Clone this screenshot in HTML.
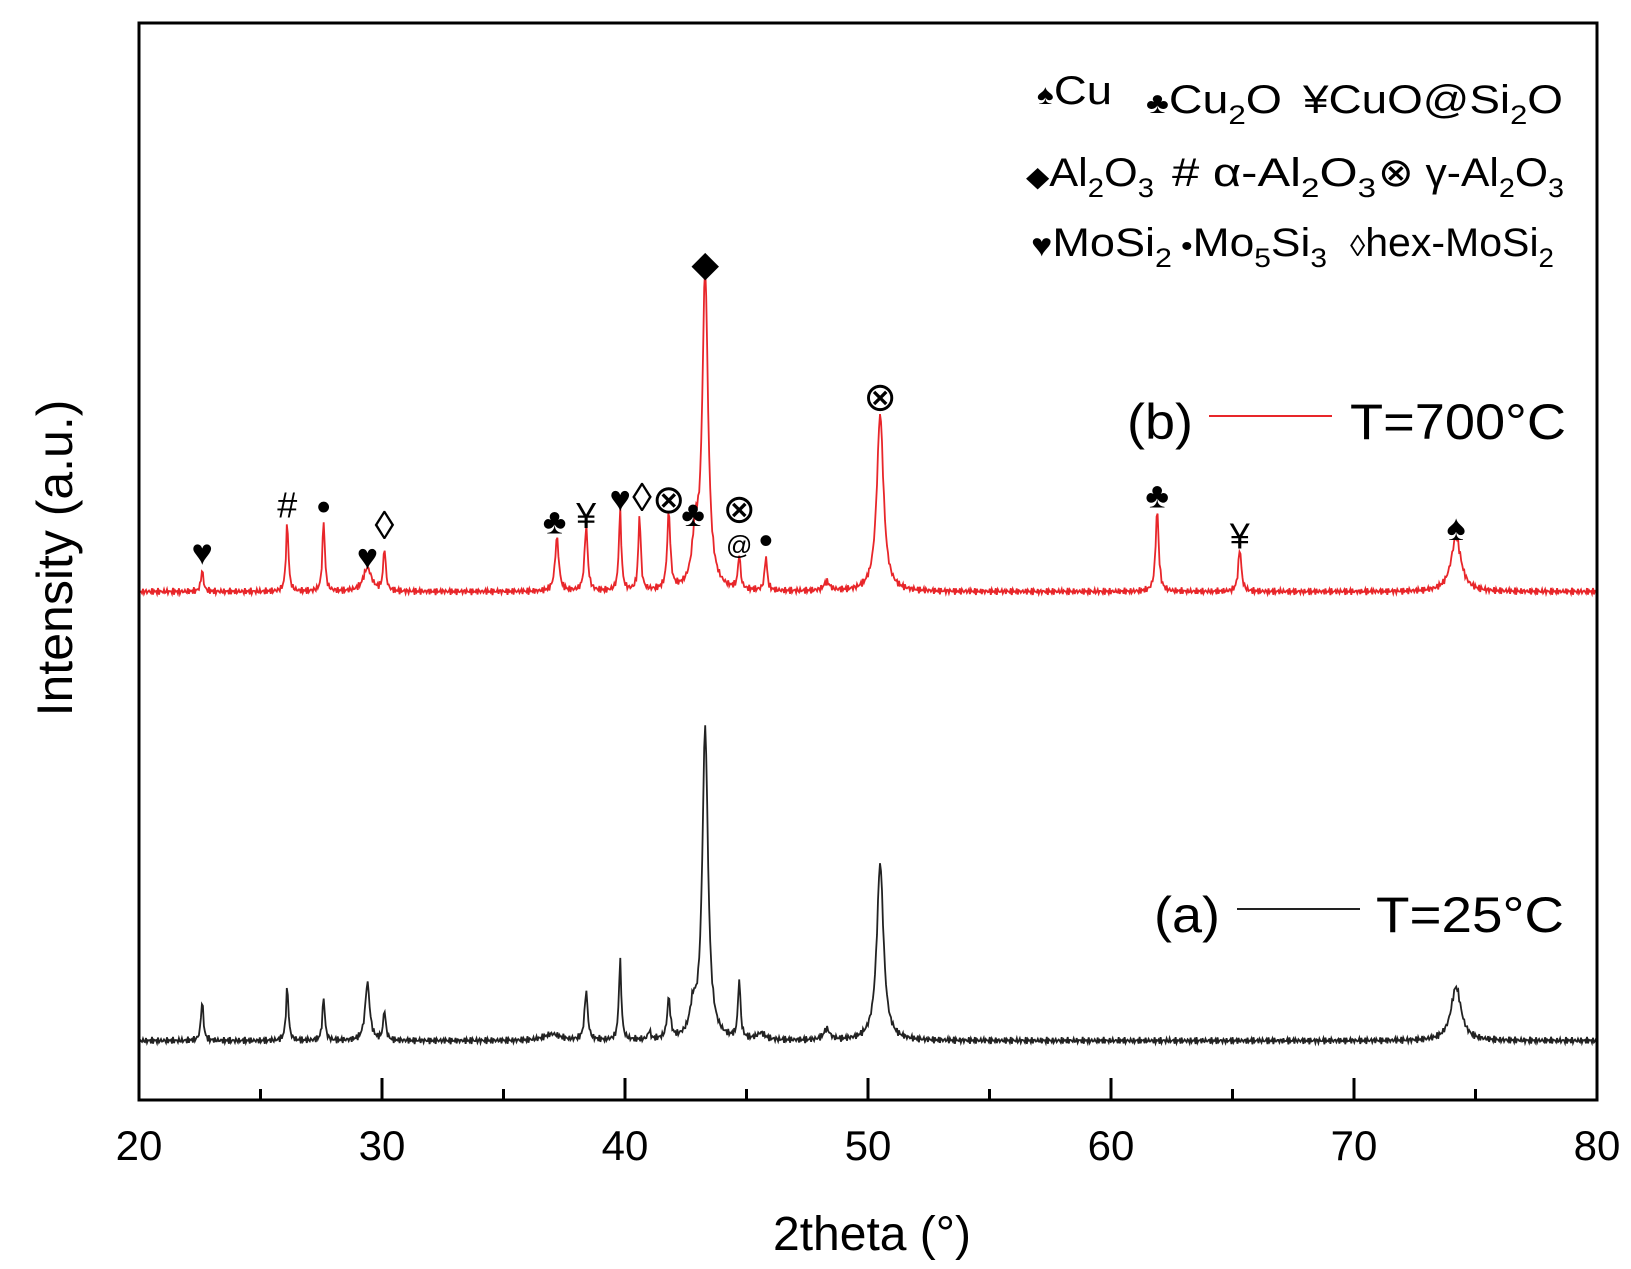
<!DOCTYPE html>
<html><head><meta charset="utf-8"><style>
html,body{margin:0;padding:0;background:#fff}
svg{display:block}
text{font-family:"Liberation Sans",sans-serif}
</style></head><body>
<svg id="chart" width="1631" height="1269" viewBox="0 0 1631 1269" xmlns="http://www.w3.org/2000/svg">
<g id="plot"></g>
<rect x="139" y="23" width="1458" height="1077" fill="none" stroke="#000" stroke-width="3"/>
<g id="xticks"></g>
<text x="872" y="1250" font-size="48" text-anchor="middle">2theta (°)</text>
<text transform="translate(72,558) rotate(-90)" font-size="50" text-anchor="middle">Intensity (a.u.)</text>
<g font-size="40">
<text x="1037" y="104" textLength="75" lengthAdjust="spacingAndGlyphs"><tspan font-size="28">♠</tspan>Cu</text>
<text x="1146" y="113" textLength="136" lengthAdjust="spacingAndGlyphs"><tspan font-size="30">♣</tspan>Cu<tspan font-size="27" dy="11">2</tspan><tspan dy="-11">O</tspan></text>
<text x="1303" y="113" textLength="260" lengthAdjust="spacingAndGlyphs">¥CuO@Si<tspan font-size="27" dy="11">2</tspan><tspan dy="-11">O</tspan></text>
<text x="1026" y="186" textLength="128" lengthAdjust="spacingAndGlyphs"><tspan font-size="28">◆</tspan>Al<tspan font-size="27" dy="11">2</tspan><tspan dy="-11">O</tspan><tspan font-size="27" dy="11">3</tspan></text>
<text x="1172" y="186" textLength="204" lengthAdjust="spacingAndGlyphs"># α-Al<tspan font-size="27" dy="11">2</tspan><tspan dy="-11">O</tspan><tspan font-size="27" dy="11">3</tspan></text>
<text x="1378" y="186" textLength="186" lengthAdjust="spacingAndGlyphs">⊗ γ-Al<tspan font-size="27" dy="11">2</tspan><tspan dy="-11">O</tspan><tspan font-size="27" dy="11">3</tspan></text>
<text x="1031" y="256" textLength="141" lengthAdjust="spacingAndGlyphs"><tspan font-size="32">♥</tspan>MoSi<tspan font-size="27" dy="11">2</tspan></text>
<text x="1181" y="256" textLength="146" lengthAdjust="spacingAndGlyphs"><tspan font-size="30">•</tspan>Mo<tspan font-size="27" dy="11">5</tspan><tspan dy="-11">Si</tspan><tspan font-size="27" dy="11">3</tspan></text>
<text x="1350" y="256" textLength="204" lengthAdjust="spacingAndGlyphs"><tspan font-size="30">◊</tspan>hex-MoSi<tspan font-size="27" dy="11">2</tspan></text>
</g>
<g font-size="50">
<text x="1127" y="439" textLength="66" lengthAdjust="spacingAndGlyphs">(b)</text>
<line x1="1209" y1="416" x2="1332" y2="416" stroke="#e8262a" stroke-width="2"/>
<text x="1350" y="439" textLength="216" lengthAdjust="spacingAndGlyphs">T=700°C</text>
<text x="1154" y="932" textLength="66" lengthAdjust="spacingAndGlyphs">(a)</text>
<line x1="1237" y1="909" x2="1360" y2="909" stroke="#222" stroke-width="2"/>
<text x="1376" y="932" textLength="188" lengthAdjust="spacingAndGlyphs">T=25°C</text>
</g>
<g id="marks" font-size="36" text-anchor="middle"></g>
</svg>
<script>
// data
const xTicks=[20,30,40,50,60,70,80];
const blackPos=[22.6,26.1,27.6,29.4,30.1,37.0,38.4,39.8,41.0,41.8,42.8,43.3,44.7,45.6,48.3,50.5,74.2];
const blackAmp=[3.7,5.0,4.0,5.4,2.8,0.6,4.6,7.4,0.8,3.8,2.5,29,5.5,0.6,1.0,16.5,5.0];
const blackWid=[0.12,0.12,0.12,0.22,0.12,0.8,0.15,0.12,0.12,0.15,0.3,0.28,0.12,0.4,0.3,0.33,0.5];
const redPos=[22.6,26.1,27.6,29.4,30.1,37.2,38.4,39.8,40.6,41.8,42.9,43.3,44.7,45.8,48.3,50.5,61.9,65.3,74.2];
const redAmp=[2.0,6.4,6.6,2.2,4.0,5.0,6.1,7.5,7.0,7.2,4.5,29.5,3.2,3.2,0.8,16.5,7.6,4.0,5.0];
const redWid=[0.12,0.12,0.12,0.4,0.12,0.18,0.15,0.12,0.12,0.15,0.3,0.28,0.12,0.12,0.3,0.33,0.15,0.15,0.5];
const blackBase=5.5, redBase=47.2;
const markSym=["♥","#","•","♥","◊","♣","¥","♥","◊","⊗","♣","◆","⊗","@","•","⊗","♣","¥","♠"];
const markDeg=[22.6,26.1,27.6,29.4,30.1,37.1,38.4,39.8,40.7,41.8,42.8,43.3,44.7,44.7,45.8,50.5,61.9,65.3,74.2];
const markVal=[49.7,54.1,53.8,49.3,52.1,52.6,53.1,54.7,54.7,54.5,53.3,76.5,53.6,50.7,50.7,64,55,51.2,52];

const L=139,R=1597,T=23,B=1100;
const sx=d=>L+(d-20)*(R-L)/60;
const sy=v=>B-v*(B-T)/100;
const NS="http://www.w3.org/2000/svg";
function curve(base,pos,amp,wid,seed){
  let pts=[];
  for(let i=0;i<=1460;i++){
    const d=20+i*60/1460;
    let v=base;
    for(let k=0;k<pos.length;k++){const z=(d-pos[k])/(wid[k]/2);v+=amp[k]/(1+z*z);}
    v+=0.35*Math.sin(i*2.7+seed)*Math.sin(i*0.61+seed*3);
    pts.push(sx(d).toFixed(1)+","+sy(v).toFixed(1));
  }
  return pts.join(" ");
}
const plot=document.getElementById('plot');
const pb=document.createElementNS(NS,'polyline');
pb.setAttribute('points',curve(blackBase,blackPos,blackAmp,blackWid,1));
pb.setAttribute('fill','none');pb.setAttribute('stroke','#222');pb.setAttribute('stroke-width','1.8');


plot.appendChild(pb);
const pr=document.createElementNS(NS,'polyline');
pr.setAttribute('points',curve(redBase,redPos,redAmp,redWid,4));
pr.setAttribute('fill','none');pr.setAttribute('stroke','#e8262a');pr.setAttribute('stroke-width','1.8');


plot.appendChild(pr);

const xt=document.getElementById('xticks');
for(let d=20;d<=80;d+=5){
  const ln=document.createElementNS(NS,'line');
  const major=d%10===0;
  ln.setAttribute('x1',sx(d));ln.setAttribute('x2',sx(d));
  ln.setAttribute('y1',B);ln.setAttribute('y2',B-(major?22:11));
  ln.setAttribute('stroke','#000');ln.setAttribute('stroke-width','3');
  
  
  xt.appendChild(ln);
}
xTicks.forEach(d=>{
  const t=document.createElementNS(NS,'text');
  t.setAttribute('x',sx(d));t.setAttribute('y',1160);
  t.setAttribute('font-size','42');t.setAttribute('text-anchor','middle');
  t.textContent=d;
  
  
  xt.appendChild(t);
});
const mk=document.getElementById('marks');
markSym.forEach((s,i)=>{
  const t=document.createElementNS(NS,'text');
  t.setAttribute('x',sx(markDeg[i]));t.setAttribute('y',sy(markVal[i]));
  if(s==='@')t.setAttribute('font-size','26');
  if(s==='•')t.setAttribute('font-size','40');
  if(s==='⊗')t.setAttribute('font-size','40');
  if(s==='◊')t.setAttribute('font-size','40');
  t.textContent=s;
  
  
  mk.appendChild(t);
});
</script>
</body></html>
